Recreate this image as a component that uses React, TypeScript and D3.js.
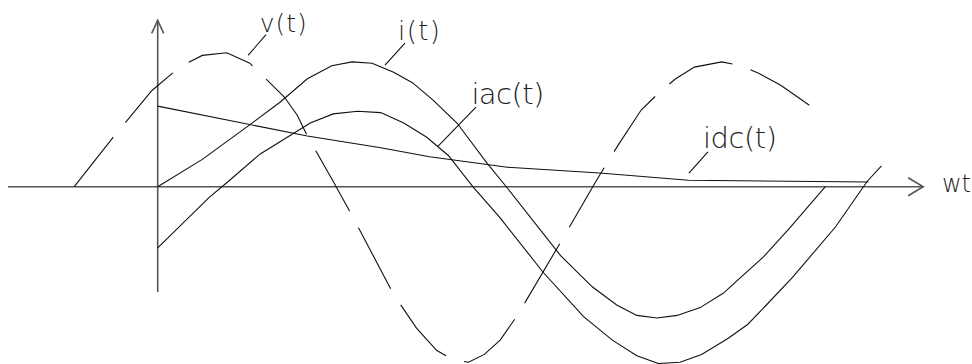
import React from 'react';
import * as d3 from 'd3';

// wt in degrees, amplitude in per-unit (v peak ~ 1)
const vWt = [-58, -31, -4, 11, 22, 31, 48, 64, 77, 88, 97, 104, 122, 135, 164, 180, 194, 205, 216, 227, 238, 250, 282, 305, 320, 336, 350, 360, 373, 392, 406, 418, 433, 455];
const vVal = [0, 0.38, 0.74, 0.88, 0.96, 1.01, 1.03, 0.95, 0.81, 0.69, 0.55, 0.39, 0.04, -0.22, -0.83, -1.09, -1.26, -1.33, -1.35, -1.29, -1.18, -0.99, -0.39, 0.05, 0.32, 0.59, 0.74, 0.83, 0.92, 0.96, 0.93, 0.87, 0.78, 0.61];

const iWt = [0, 31, 62, 85, 104, 121, 135, 149, 164, 177, 191, 208, 229, 243, 280, 302, 319, 333, 347, 361, 377, 393, 405, 421, 439, 464];
const iVal = [0, 0.21, 0.46, 0.65, 0.83, 0.93, 0.96, 0.95, 0.88, 0.8, 0.67, 0.49, 0.18, -0.01, -0.53, -0.77, -0.91, -0.99, -1.01, -0.99, -0.93, -0.82, -0.7, -0.54, -0.32, 0];

const iacWt = [0, 36, 49, 71, 106, 122, 139, 155, 171, 187, 202, 219, 238, 268, 296, 316, 333, 348, 363, 378, 396, 410, 423, 441, 471, 493, 503];
const iacVal = [-0.47, -0.08, 0.04, 0.25, 0.49, 0.56, 0.58, 0.57, 0.49, 0.38, 0.24, 0, -0.24, -0.66, -1.0, -1.18, -1.3, -1.36, -1.35, -1.29, -1.17, -1.06, -0.91, -0.7, -0.31, 0.04, 0.16];

const idcWt = [0, 104, 155, 189, 243, 307, 369, 494];
const idcVal = [0.62, 0.39, 0.3, 0.23, 0.15, 0.105, 0.05, 0.036];

// axis extent
const wtAxis = [-104, 532];
const valAxis = [-0.81, 1.28];

// labels: text, text anchor (wt, val), leader from/to (wt, val)
const labelText = ['v(t)', 'i(t)', 'iac(t)', 'idc(t)'];
const labelAt = [[71, 1.19], [167, 1.13], [218, 0.633], [379, 0.298]];
const labelWidth = [47, 42, 73, 74];
const labelSize = [25, 26, 29, 29];
const leaderFrom = [[75.3, 1.17], [171.8, 1.105], [221.2, 0.613], [382.4, 0.267]];
const leaderTo = [[62.8, 1.01], [158, 0.935], [194.9, 0.313], [369.2, 0.105]];

const W = 972;
const H = 364;

export default function App() {
  const x = d3.scaleLinear().domain([0, 180]).range([157.7, 416.7]);
  const y = d3.scaleLinear().domain([0, 1]).range([186.7, 56.7]);

  const line = d3.line<[number, number]>()
    .x(d => x(d[0]))
    .y(d => y(d[1]));

  const zip = (a: number[], b: number[]) => a.map((w, k) => [w, b[k]] as [number, number]);

  const axisColor = '#555';
  const font = '"DejaVu Sans", sans-serif';

  const x0 = x(0), y0 = y(0);
  const xEnd = x(wtAxis[1]);
  const yTop = y(valAxis[1]);

  return (
    <svg width={W} height={H} style={{ position: 'absolute', left: 0, top: 0, background: '#fff' }}>
      {/* axes */}
      <g stroke={axisColor} strokeWidth={1.6} fill="none">
        <line x1={x(wtAxis[0])} y1={y0} x2={xEnd} y2={y0} />
        <line x1={x0} y1={y(valAxis[0])} x2={x0} y2={yTop} />
        <polyline points={`${xEnd - 15},${y0 - 9} ${xEnd},${y0} ${xEnd - 15},${y0 + 9}`} />
        <polyline points={`${x0 - 6},${yTop + 13} ${x0},${yTop} ${x0 + 6},${yTop + 13}`} />
      </g>
      <text x={x(545)} y={y(-0.04)} fontFamily={font} fontWeight={200} fontSize={24} fill="#222">wt</text>

      {/* curves */}
      <g fill="none" stroke="#111" strokeWidth={1.1}>
        <path d={line(zip(vWt, vVal)) ?? ''} strokeDasharray="69 19" strokeDashoffset={6} />
        <path d={line(zip(iWt, iVal)) ?? ''} />
        <path d={line(zip(iacWt, iacVal)) ?? ''} />
        <path d={line(zip(idcWt, idcVal)) ?? ''} />
      </g>

      {/* labels + leaders */}
      {labelText.map((t, k) => (
        <g key={t}>
          <line
            x1={x(leaderFrom[k][0])} y1={y(leaderFrom[k][1])}
            x2={x(leaderTo[k][0])} y2={y(leaderTo[k][1])}
            stroke="#111" strokeWidth={1.1}
          />
          <text
            x={x(labelAt[k][0])} y={y(labelAt[k][1])}
            fontFamily={font} fontWeight={200} fontSize={labelSize[k]}
            textLength={labelWidth[k]} lengthAdjust="spacing" fill="#222"
          >
            {t}
          </text>
        </g>
      ))}
    </svg>
  );
}
